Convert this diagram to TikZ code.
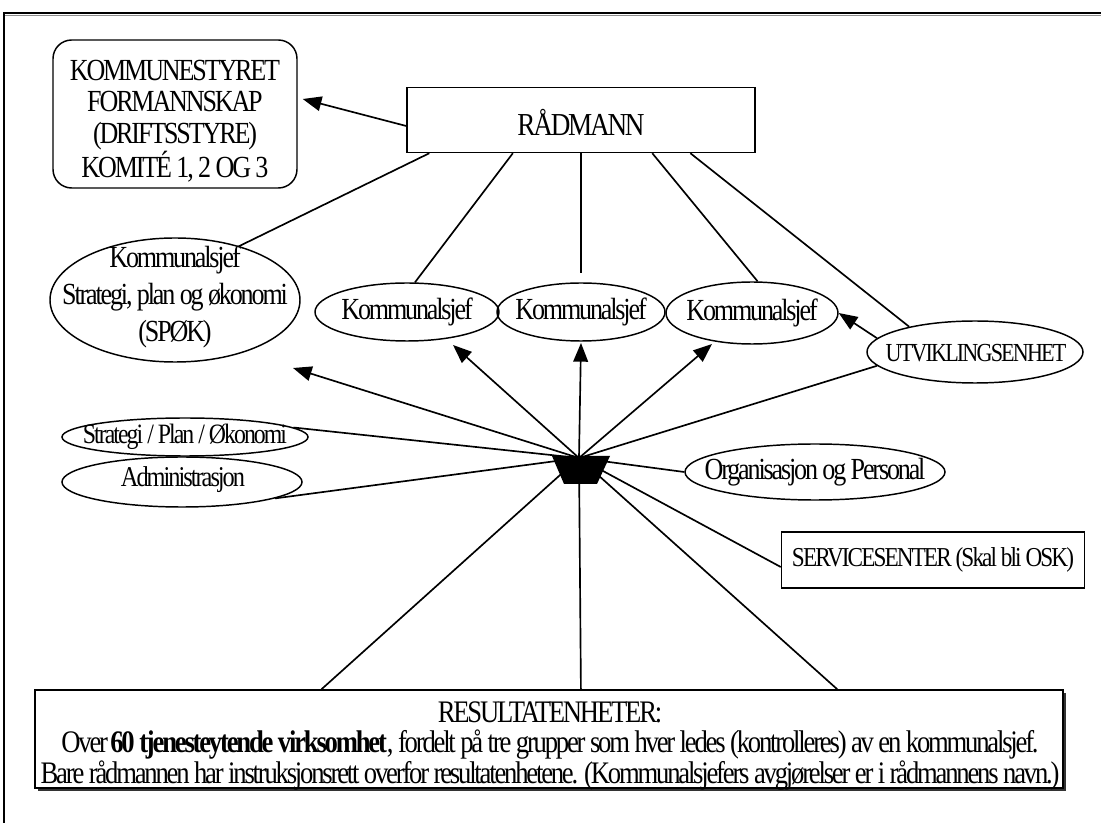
\documentclass[tikz,border=0pt]{standalone}
\usepackage{fontspec}
\setmainfont{Liberation Serif}[FakeStretch=0.85,LetterSpace=-7]
\usetikzlibrary{shapes.geometric,arrows.meta,calc}

\begin{document}
\begin{tikzpicture}[x=0.75pt,y=-0.75pt,
  conn/.style={line width=1.25pt},
  arr/.style={conn,-{Triangle[length=14pt,width=11pt]}},
  oval/.style 2 args={ellipse,draw,line width=1.1pt,minimum width={#1*0.75pt},minimum height={#2*0.75pt},inner sep=0pt},
  frame/.style 2 args={rectangle,draw,line width=1.1pt,minimum width={#1*0.75pt},minimum height={#2*0.75pt},inner sep=0pt},
  lab/.style={inner sep=0pt,align=center,font=\fontsize{23pt}{26pt}\selectfont},
  fsize/.style={font=\fontsize{#1}{26pt}\selectfont},
]
\useasboundingbox (0,0) rectangle (1101,823);

% page frame
\draw[line width=1.2pt] (4,830) -- (4,13) -- (1110,13);
\draw[black!45,line width=0.8pt] (5,15.5) -- (1110,15.5);

% boxes
\node[frame={244}{148},rounded corners=14pt] (kom) at (175,114) {};
\node[lab,font=\fontsize{23pt}{23.5pt}\selectfont] (kom-t) at (175,121)
  {KOMMUNESTYRET\\FORMANNSKAP\\(DRIFTSSTYRE)\\KOMITÉ 1, 2 OG 3};
\node[frame={348}{65}] (rad) at (581,120) {};
\node[lab,fsize=24pt] (rad-t) at (581,122) {RÅDMANN};

% ellipses
\node[oval={250}{124}] (spok) at (175,300) {};
\node[lab,font=\fontsize{23pt}{28pt}\selectfont] (spok-t) at (175,297)
  {Kommunalsjef\\Strategi, plan og økonomi\\(SPØK)};
\node[oval={184}{58}] (k1) at (407,312) {};
\node[lab] (k1-t) at (k1) {Kommunalsjef};
\node[oval={168}{58}] (k2) at (581,312) {};
\node[lab] (k2-t) at (k2) {Kommunalsjef};
\node[oval={172}{62}] (k3) at (752,313) {};
\node[lab] (k3-t) at (k3) {Kommunalsjef};
\node[oval={216}{62}] (utv) at (975,352) {};
\node[lab,fsize=19.5pt] (utv-t) at (976,353) {UTVIKLINGSENHET};
\node[oval={246}{38}] (spo) at (185,437) {};
\node[lab,fsize=21pt] (spo-t) at (spo) {Strategi / Plan / Økonomi};
\node[oval={240}{50}] (adm) at (182,482) {};
\node[lab,fsize=21.5pt] (adm-t) at (183,480) {Administrasjon};
\node[oval={260}{56}] (org) at (815,472) {};
\node[lab] (org-t) at (org) {Organisasjon og Personal};

\node[frame={303}{56}] (srv) at (933,560) {};
\node[lab,fsize=20.5pt] (srv-t) at (srv) {SERVICESENTER (Skal bli OSK)};

% result units, with drop shadow
\fill[black!80] (38,693) rectangle (1066,791);
\node[frame={1028}{98},fill=white] (res) at (549,739) {};
\node[lab,font=\fontsize{23.5pt}{22pt}\selectfont] (res-t) at (550,746)
  {RESULTATENHETER:\\Over \textbf{60 tjenesteytende virksomhet}, fordelt på tre grupper som hver ledes (kontrolleres) av en kommunalsjef.\\Bare rådmannen har instruksjonsrett overfor resultatenhetene. (Kommunalsjefers avgjørelser er i rådmannens navn.)};

% hub and arrow tips
\coordinate (hub) at (579,458);
\coordinate (tip-spok) at (293,368);
\coordinate (tip-k1) at (453,345);
\coordinate (tip-k2) at (581,343);
\coordinate (tip-k3) at (712,344);

% links from RÅDMANN
\draw[arr] ([yshift=-6*0.75pt]rad.west) -- ([shift={(5,-15)}]kom.east);
\draw[conn] ($(rad.south west)!0.066!(rad.south east)$) -- (spok.40);
\draw[conn] ($(rad.south west)!0.305!(rad.south east)$) -- (k1.75);
\draw[conn,shorten >=7pt] (rad.south) -- (k2.north);
\draw[conn] ($(rad.south west)!0.704!(rad.south east)$) -- (k3.80);
\draw[conn] ($(rad.south west)!0.813!(rad.south east)$) -- (utv.159);
\draw[arr] (utv.172) -- (k3.east);

% links from the hub
\draw[arr] (hub) -- (tip-spok);
\draw[arr] (hub) -- (tip-k1);
\draw[arr] (hub) -- (tip-k2);
\draw[arr] (hub) -- (tip-k3);
\draw[conn] (hub) -- (utv.188);
\draw[conn] (hub) -- (spo.5);
\draw[conn] (hub) -- (adm.-10);
\draw[conn] (hub) -- (org.west);
\draw[conn] (hub) -- ([yshift=-7*0.75pt]srv.west);
\draw[conn] (hub) -- ($(res.north west)!0.279!(res.north east)$);
\draw[conn] (hub) -- ($(res.north west)!0.531!(res.north east)$);
\draw[conn] (hub) -- ($(res.north west)!0.780!(res.north east)$);

% hub block
\fill (552,456) -- (610,456) -- (597,484) -- (564,484) -- cycle;
\end{tikzpicture}
\end{document}
